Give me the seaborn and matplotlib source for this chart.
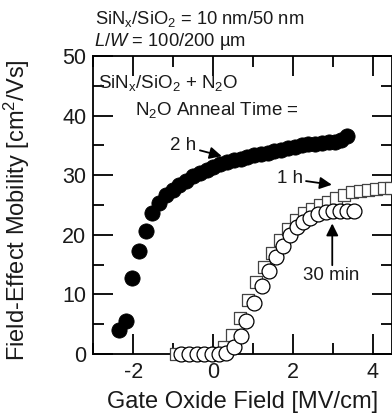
import matplotlib
matplotlib.use("Agg")
import matplotlib.pyplot as plt
from matplotlib.ticker import MultipleLocator
import seaborn as sns
import pandas as pd

# Mobility vs. gate oxide field for three N2O anneal times
field_2h = [-2.36, -2.19, -2.03, -1.86, -1.69, -1.52, -1.35, -1.18, -1.01, -0.84,
            -0.67, -0.50, -0.33, -0.16, 0.01, 0.18, 0.35, 0.52, 0.69, 0.86,
            1.03, 1.20, 1.37, 1.54, 1.71, 1.88, 2.05, 2.22, 2.39, 2.56,
            2.73, 2.90, 3.07, 3.22, 3.36]
mob_2h = [4.0, 5.6, 12.8, 17.3, 20.7, 23.6, 25.4, 26.6, 27.6, 28.4,
          29.1, 29.8, 30.4, 30.9, 31.4, 31.8, 32.2, 32.5, 32.8, 33.1,
          33.4, 33.6, 33.8, 34.0, 34.3, 34.6, 34.8, 35.0, 35.2, 35.3,
          35.4, 35.5, 35.6, 35.9, 36.5]

field_1h = [-0.92, -0.72, -0.52, -0.32, -0.12, 0.08, 0.28, 0.48, 0.68, 0.88,
            1.08, 1.28, 1.48, 1.68, 1.88, 2.08, 2.28, 2.48, 2.68, 2.88,
            3.08, 3.28, 3.48, 3.68, 3.88, 4.08, 4.28, 4.46]
mob_1h = [0.0, 0.0, 0.0, 0.0, 0.0, 0.2, 1.2, 3.2, 6.0, 9.0,
          12.0, 14.6, 17.0, 19.2, 21.0, 22.4, 23.6, 24.4, 25.0, 25.5,
          26.2, 26.7, 27.1, 27.4, 27.6, 27.7, 27.8, 27.8]

field_30m = [-0.79, -0.60, -0.41, -0.22, -0.03, 0.15, 0.32, 0.52, 0.69, 0.84,
             1.03, 1.24, 1.41, 1.57, 1.76, 1.94, 2.11, 2.26, 2.44, 2.64,
             2.83, 3.01, 3.18, 3.36, 3.54]
mob_30m = [0.0, 0.0, 0.0, 0.0, 0.0, 0.0, 0.2, 1.2, 3.0, 5.6,
           8.5, 11.4, 14.0, 16.2, 18.2, 20.0, 21.3, 22.2, 22.9, 23.5,
           23.9, 24.0, 24.0, 24.0, 24.0]

x_ticks = [-2, 0, 2, 4]
y_ticks = [0, 10, 20, 30, 40, 50]

df_2h = pd.DataFrame({"field": field_2h, "mobility": mob_2h})
df_1h = pd.DataFrame({"field": field_1h, "mobility": mob_1h})
df_30m = pd.DataFrame({"field": field_30m, "mobility": mob_30m})

sns.set_theme(style="ticks")
plt.rcParams["font.family"] = ["Liberation Sans", "DejaVu Sans"]
plt.rcParams["mathtext.fontset"] = "custom"
plt.rcParams["mathtext.rm"] = "Liberation Sans"
plt.rcParams["mathtext.it"] = "Liberation Sans:italic"
plt.rcParams["mathtext.default"] = "regular"
plt.rcParams["axes.unicode_minus"] = False

ink = "#1a1a1a"

fig = plt.figure(figsize=(3.92, 4.15), dpi=100)
ax = fig.add_axes([93.3 / 392, 61 / 415, 298.4 / 392, 298 / 415])

sns.scatterplot(data=df_1h, x="field", y="mobility", ax=ax, marker="s", s=85,
                facecolor="white", edgecolor="#444444", linewidth=0.9,
                clip_on=False, zorder=3)
sns.scatterplot(data=df_30m, x="field", y="mobility", ax=ax, marker="o", s=115,
                facecolor="white", edgecolor="black", linewidth=0.9,
                clip_on=False, zorder=4)
sns.scatterplot(data=df_2h, x="field", y="mobility", ax=ax, marker="o", s=120,
                facecolor="black", edgecolor="black", linewidth=0.6,
                clip_on=False, zorder=4)

ax.set_xlim(-3, 4.48)
ax.set_ylim(0, 50)
ax.set_xticks(x_ticks)
ax.set_yticks(y_ticks)
ax.xaxis.set_minor_locator(MultipleLocator(1))
ax.yaxis.set_minor_locator(MultipleLocator(5))
ax.tick_params(which="both", direction="in", top=True, right=True,
               width=1.3, color="black", labelsize=15.5, labelcolor=ink)
ax.tick_params(which="major", length=14.5)
ax.tick_params(which="minor", length=8)
ax.tick_params(axis="x", pad=6)
ax.tick_params(axis="y", pad=5)
for side in ax.spines.values():
    side.set_visible(True)
    side.set_linewidth(1.3)
    side.set_color("black")

ax.set_xlabel("Gate Oxide Field [MV/cm]", fontsize=17, color=ink)
ax.xaxis.set_label_coords(0.5, -0.125)
ax.set_ylabel("Field-Effect Mobility [cm$^2$/Vs]", fontsize=17, color=ink)
ax.yaxis.set_label_coords(-0.205, 0.483)

# Header lines
fig.text(95 / 392, 1 - 24 / 415, "SiN$_x$/SiO$_2$ = 10 nm/50 nm",
         fontsize=13.2, color=ink, va="baseline")
fig.text(94 / 392, 1 - 46 / 415, "$\\it{L}$/$\\it{W}$ = 100/200 µm",
         fontsize=13.2, color=ink, va="baseline")

# Inside labels
ax.text(-2.88, 45.5, "SiN$_x$/SiO$_2$ + N$_2$O", fontsize=13.5,
        color=ink, va="center", ha="left")
ax.text(-1.95, 40.9, "N$_2$O Anneal Time =", fontsize=13.5,
        color=ink, va="center", ha="left")

arrow = dict(arrowstyle="-|>", color="black", lw=1.3, mutation_scale=18,
             shrinkA=0, shrinkB=0)
ax.annotate("2 h", xy=(0.22, 33.2), xytext=(-0.41, 34.9), fontsize=13.5,
            color=ink, ha="right", va="center", arrowprops=arrow)
ax.annotate("1 h", xy=(2.98, 28.4), xytext=(2.25, 29.4), fontsize=13.5,
            color=ink, ha="right", va="center", arrowprops=arrow)
ax.annotate("", xy=(2.99, 21.9), xytext=(2.99, 14.9), arrowprops=arrow)
ax.text(2.97, 13.2, "30 min", fontsize=13.5, color=ink,
        ha="center", va="center")

fig.savefig("out.png", dpi=100)
